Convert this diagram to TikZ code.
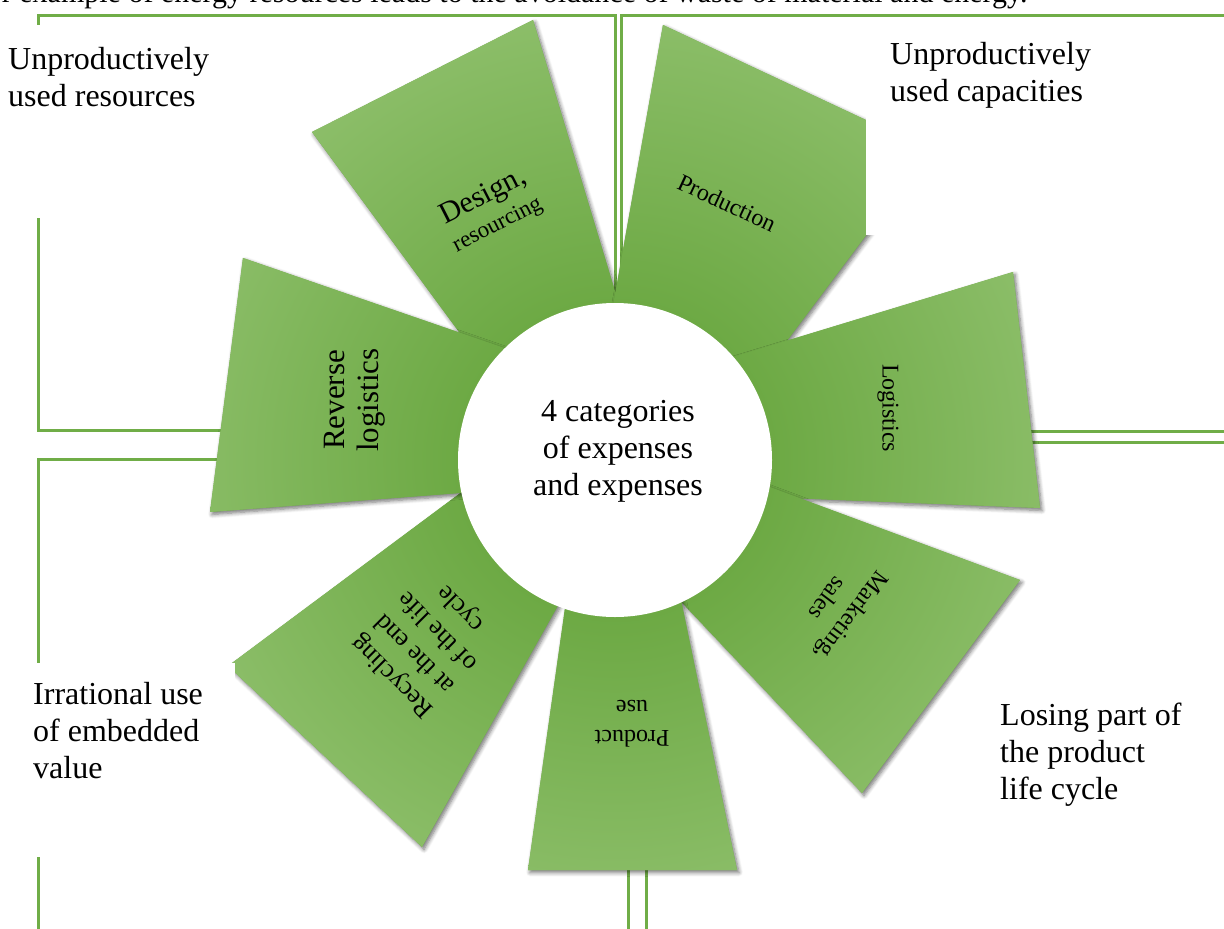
\documentclass[tikz,border=0pt]{standalone}
\usepackage{fontspec}
\setmainfont{Liberation Serif}
\usetikzlibrary{shadows.blur}
\definecolor{linegreen}{RGB}{112,173,71}
\definecolor{pin}{RGB}{92,158,48}
\definecolor{pout}{RGB}{140,190,105}
\tikzset{
  gline/.style={draw=linegreen, line width=3pt},
  bigtxt/.style={font=\fontsize{32}{37}\selectfont, inner sep=0pt, align=left},
  ptxt/.style={font=\fontsize{24}{30}\selectfont, inner sep=0pt, align=center},
  pshadow/.style={blur shadow={shadow xshift=2pt, shadow yshift=-2.5pt, shadow blur radius=4pt, shadow blur steps=6, shadow opacity=55}},
}
\newcommand{\Petal}[1]{%
  \fill[linegreen, pshadow] #1 -- cycle;
  \begin{scope}
    \clip #1 -- cycle;
    \shade[inner color=pin, outer color=pout] (615,460) circle (450pt);
  \end{scope}}
\begin{document}
\begin{tikzpicture}[x=1pt,y=-1pt]
\useasboundingbox (0,0) rectangle (1224,929);
\clip (0,0) rectangle (1224,929);

\node[anchor=base west, font=\fontsize{30}{34}\selectfont, inner sep=0pt] (header) at (-30,2) {For example of energy resources leads to the avoidance of waste of material and energy.};

% quadrant frames
\draw[gline] (38,15) rectangle (615,430);
\draw[gline] (621,15) rectangle (1250,431);
\draw[gline] (38,459) rectangle (628,960);
\draw[gline] (646,442) rectangle (1250,960);

% petals
\Petal{(312,132) -- (533,20) -- (627,331) -- (504,393)}
\Petal{(663,25) -- (930,150) -- (738,406) -- (607,340)}
\Petal{(1013,272) -- (1040,508) -- (740,496) -- (707,365)}
\Petal{(1020,580) -- (862,793) -- (656,575) -- (748,479)}
\Petal{(737,870) -- (528,870) -- (570,573) -- (676,576)}
\Petal{(422,847) -- (228,666) -- (490,471) -- (574,577)}
\Petal{(243,258) -- (210,512) -- (499,490) -- (536,359)}

% hub
\node[circle, fill=white, minimum size=314pt, inner sep=0pt] (hub) at (615,460) {};
\node[bigtxt, align=center] (hubtext) at (618,451) {4 categories\\of expenses\\and expenses};

% white text boxes
\fill[white] (0,25) rectangle (232,218);
\fill[white] (866,22) rectangle (1224,235);
\fill[white] (15,663) rectangle (235,857);

% corner texts
\node[bigtxt, anchor=west] (tl) at (8,77) {Unproductively\\used resources};
\node[bigtxt, anchor=west] (tr) at (890,75) {Unproductively\\used capacities};
\node[bigtxt, anchor=west] (bl) at (33,731) {Irrational use\\of embedded\\value};
\node[bigtxt, anchor=west] (br) at (1000,755) {Losing part of\\the product\\life cycle};

% petal labels
\node[ptxt, rotate=27] (design) at (490,210) {{\fontsize{30}{32}\selectfont Design,}\\{\fontsize{23}{26}\selectfont resourcing}};
\node[ptxt, rotate=-25] (prod) at (727,203) {Production};
\node[ptxt, rotate=-90] (logi) at (888,408) {Logistics};
\node[ptxt, rotate=-127] (mark) at (840,608) {Marketing,\\sales};
\node[ptxt, rotate=180] (use) at (632,724) {Product\\use};
\node[ptxt, rotate=135, font=\fontsize{26}{32}\selectfont] (recyc) at (427,642) {Recycling\\at the end\\of the life\\cycle};
\node[ptxt, rotate=90, font=\fontsize{31}{34}\selectfont] (rev) at (355,400) {Reverse\\logistics};
\end{tikzpicture}
\end{document}
